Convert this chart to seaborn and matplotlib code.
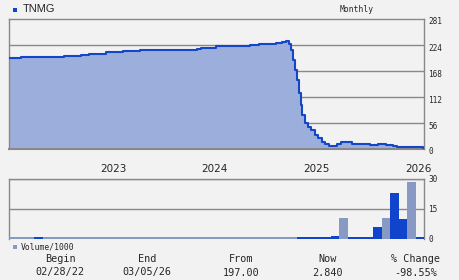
import matplotlib
matplotlib.use("Agg")
import matplotlib.pyplot as plt
import seaborn as sns
import pandas as pd
from matplotlib.patches import Rectangle
from matplotlib.transforms import ScaledTranslation

# ---------------- data ----------------
ticker = "TNMG"
period = "Monthly"
# price path: month index (0 = start of Feb 2022) and price
price_month = [0, 1.42, 6.49, 8.5, 9.45, 11.45, 13.46, 15.47, 18.42, 22.2, 22.67,
               24.44, 25.5, 28.45, 29.5, 31.5, 32.23, 32.7, 33.06, 33.3, 33.53,
               33.77, 34.0, 34.24, 34.47, 34.65, 34.95, 35.3, 35.66, 36.13, 36.5,
               36.95, 37.3, 37.78, 38.25, 38.7, 39.2, 40.5, 42.62, 43.57, 44.5,
               45.3, 45.8, 48.9, 49]
price_value = [197, 199, 201.7, 203.8, 206, 209, 211.2, 213, 214.7, 216.8, 219,
               222, 223.3, 225.5, 227.6, 229.8, 232, 234, 227, 214, 192,
               171, 149, 121, 95, 74, 56, 47.5, 41, 30, 24,
               15, 11, 7, 6.5, 10.8, 14.5, 10.8, 8.6, 10.8, 8.6,
               7, 4.5, 2.84, 2.84]
# monthly volume (thousands), one bar per month Feb 2022 .. Feb 2026
volume = [0.8, 0.8, 0.8, 0.9] + [0.8] * 30 + [0.9, 0.9, 0.9, 0.9, 1.5, 10.4,
          0.9, 0.9, 0.9, 6.2, 10.7, 23.2, 10.2, 28.7, 1.2]
vol_kind = (["light"] * 3 + ["dark"] + ["light"] * 30 + ["dark"] * 5 + ["light"]
            + ["dark"] * 4 + ["light"] + ["dark"] * 2 + ["light"] + ["dark"])
price_ticks = [0, 56, 112, 168, 224, 281]
volume_ticks = [0, 15, 30]
year_labels = ["2023", "2024", "2025", "2026"]
year_pos = [12.3, 24.3, 36.3, 48.3]
summary_heads = ["Begin", "End", "From", "Now", "% Change"]
summary_vals = ["02/28/22", "03/05/26", "197.00", "2.840", "-98.55%"]

# ---------------- style ----------------
BG = "#f2f2f2"
LINE = "#1447c8"
FILL = "#9cafdc"
VLIGHT = "#8899c4"
VDARK = "#1144cc"
GRID = "#888888"
MONO = "DejaVu Sans Mono"

sns.set_theme(style="white")
plt.rcParams["font.family"] = ["DejaVu Sans"]

W, H = 460, 280
fig = plt.figure(figsize=(W / 100, H / 100), dpi=100, facecolor=BG)
ax = fig.add_axes([9 / W, 131 / H, 415 / W, 130 / H])
axv = fig.add_axes([9 / W, 41 / H, 415 / W, 60 / H])

# ---------------- price panel ----------------
dfp = pd.DataFrame({"m": price_month, "p": price_value})
ax.set_facecolor(BG)
sns.lineplot(data=dfp, x="m", y="p", drawstyle="steps-post", color=LINE,
             lw=1.5, ax=ax, zorder=3, sort=False)
ax.set_xlim(0, 49)
ax.set_ylim(0, 281)
ax.set_xlabel("")
ax.set_ylabel("")
ax.yaxis.tick_right()
ax.set_yticks(price_ticks)
ax.set_yticklabels([str(t) for t in price_ticks], family=MONO, fontsize=5.6)
ax.tick_params(axis="y", length=0, pad=3)
ax.set_xticks(year_pos)
ax.set_xticklabels(year_labels, fontsize=7.5)
ax.tick_params(axis="x", length=0, pad=11)
ax.grid(False)
for y in price_ticks[1:-1]:
    ax.axhline(y, color=GRID, lw=1, zorder=1)
# opaque fill drawn last, above the gridlines
ax.fill_between(price_month, price_value, 0, step="post",
                facecolor=FILL, edgecolor="none", lw=0, zorder=2)
for s in ax.spines.values():
    s.set_color(GRID)
    s.set_linewidth(1)
ax.spines["bottom"].set_linewidth(1.5)
off = ScaledTranslation(0, -2 / 100, fig.dpi_scale_trans)
for lab in ax.get_yticklabels():
    lab.set_transform(lab.get_transform() + off)

# ---------------- volume panel ----------------
dfv = pd.DataFrame({"i": list(range(len(volume))), "v": volume, "k": vol_kind})
axv.set_facecolor(BG)
axv.set_axisbelow(True)
sns.barplot(data=dfv, x="i", y="v", hue="k", palette={"light": VLIGHT, "dark": VDARK},
            dodge=False, width=1.0, legend=False, ax=axv, zorder=3, saturation=1,
            edgecolor="none", linewidth=0)
axv.set_xlim(-0.5, len(volume) - 0.5)
axv.set_ylim(0, 30)
axv.set_xticks([])
axv.set_xlabel("")
axv.set_ylabel("")
axv.yaxis.tick_right()
axv.set_yticks(volume_ticks)
axv.set_yticklabels([str(t) for t in volume_ticks], family=MONO, fontsize=5.6)
axv.tick_params(axis="y", length=0, pad=3)
axv.grid(True, axis="y", color=GRID, lw=1)
for s in axv.spines.values():
    s.set_color(GRID)
    s.set_linewidth(1)
axv.spines["bottom"].set_visible(False)

# ---------------- header / legend / summary ----------------
fig.add_artist(Rectangle((13 / W, 1 - 12 / H), 4 / W, 4 / H, transform=fig.transFigure,
                         color=VDARK, lw=0))
fig.text(23 / W, 1 - 9.5 / H, ticker, fontsize=8, va="center", ha="left",
         family="Liberation Sans")
fig.text(340 / W, 1 - 9 / H, period, fontsize=5.8, va="center", ha="left", family=MONO)

fig.add_artist(Rectangle((13 / W, 1 - 249 / H), 4 / W, 4 / H, transform=fig.transFigure,
                         color=VLIGHT, lw=0))
fig.text(21 / W, 1 - 246.5 / H, "Volume/1000", fontsize=5.8, va="center", ha="left",
         family=MONO)

col_x = [60, 147, 241, 328, 416]
for cx, h, v in zip(col_x, summary_heads, summary_vals):
    fig.text(cx / W, 1 - 259 / H, h, fontsize=7.3, va="center", ha="center", family=MONO)
    fig.text(cx / W, 1 - 272.5 / H, v, fontsize=7.3, va="center", ha="center", family=MONO)

fig.savefig("out.png", dpi=100, facecolor=BG)
